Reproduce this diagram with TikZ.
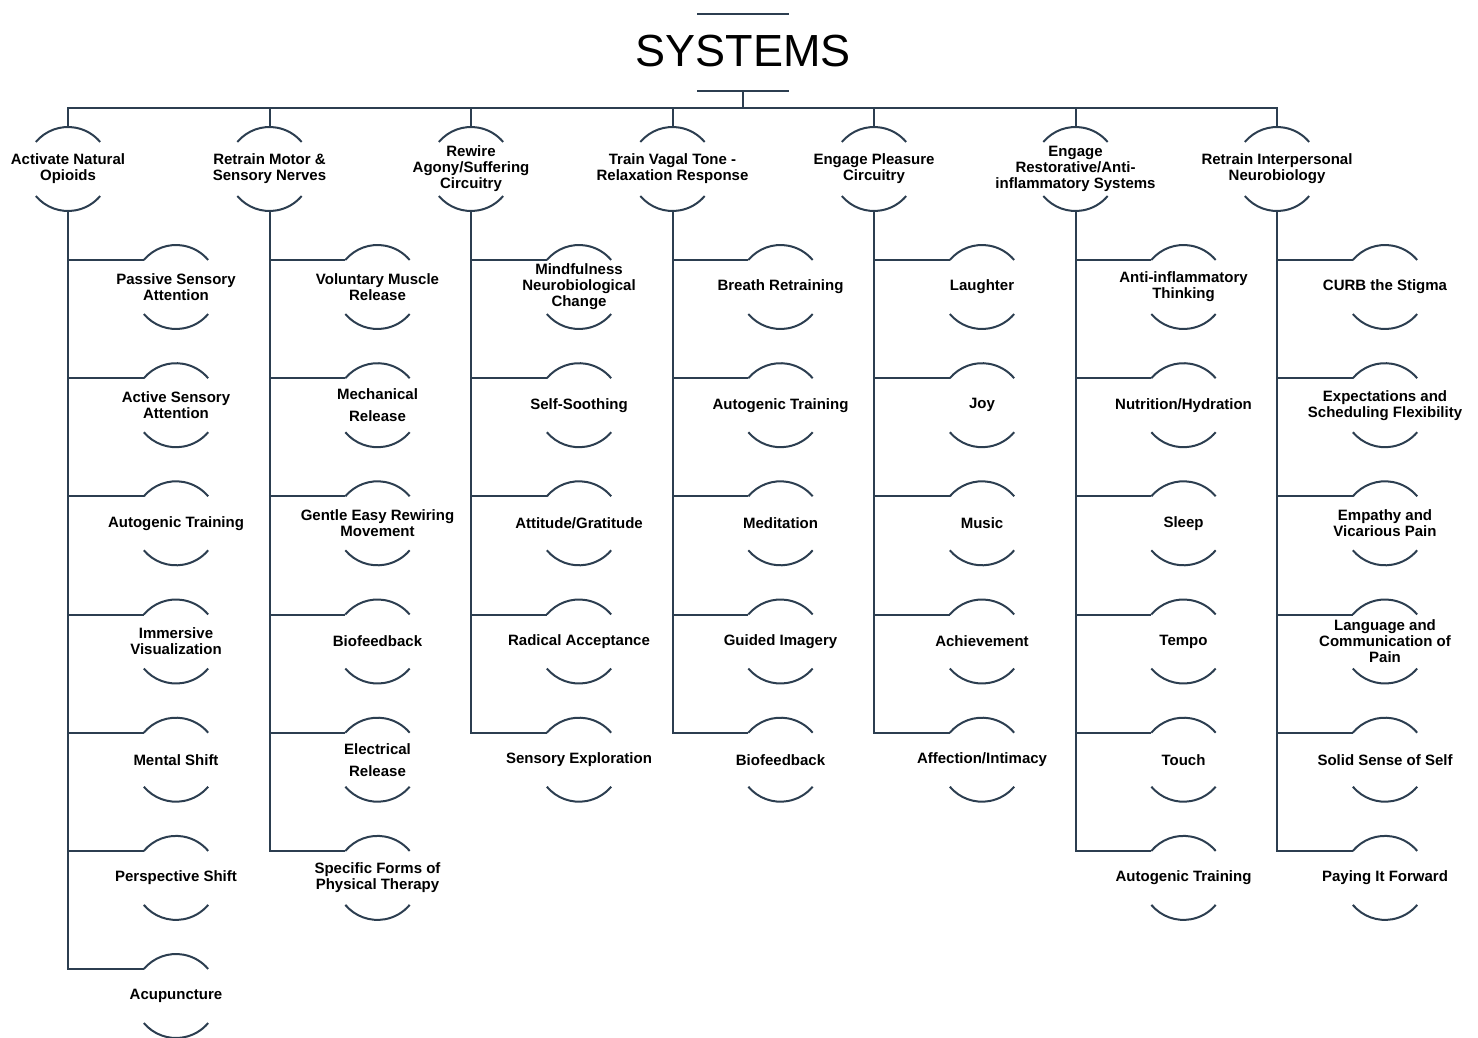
\documentclass[tikz,border=0pt]{standalone}
\usepackage{fontspec}
\setmainfont{Liberation Sans}
\usetikzlibrary{calc}
\definecolor{navy}{RGB}{44,62,80}

\begin{document}
\begin{tikzpicture}[x=1pt,y=1pt,
	ln/.style={line width=2pt,navy,line cap=butt},
	lbl/.style={font=\fontsize{15}{16}\selectfont\bfseries,align=center,inner sep=0pt},
	ttl/.style={font=\fontsize{45}{50}\selectfont,inner sep=0pt}]
\useasboundingbox (0,0) rectangle (1478,-1038);
		% title and bus
		\node[ttl] (sys) at (743,-51) {SYSTEMS};
		\coordinate (tl) at (697,-14);
		\coordinate (tr) at (789,-14);
		\coordinate (bl) at (697,-91);
		\coordinate (br) at (789,-91);
		\coordinate (stem) at (743,-91);
		\coordinate (bus) at (743,-108);
		\draw[ln] (tl) -- (tr);
		\draw[ln] (bl) -- (br);
		\draw[ln] (stem) -- (bus);
\begin{scope}[xshift=68pt]
		\node[lbl] (h1) at (0,-169) {Activate Natural\\Opioids};
		\coordinate (h1b) at (0,-211);
		\node[lbl] (c11) at (108,-287) {Passive Sensory\\Attention};
		\node[lbl] (c12) at (108,-405.2) {Active Sensory\\Attention};
		\node[lbl] (c13) at (108,-523.3) {Autogenic Training};
		\node[lbl] (c14) at (108,-641.5) {Immersive\\Visualization};
		\node[lbl] (c15) at (108,-759.7) {Mental Shift};
		\node[lbl] (c16) at (108,-877.9) {Perspective Shift};
		\node[lbl] (c17) at (108,-996) {Acupuncture};
		\draw[ln] ($(h1.center)+(0,42)$) |- (bus);
		\foreach \n in {c11,c12,c13,c14,c15,c16,c17}
			\draw[ln] ($(\n.center)+(140:42)$) -| (h1b);
\end{scope}
\begin{scope}[xshift=269.5pt]
		\node[lbl] (h2) at (0,-169) {Retrain Motor \&\\Sensory Nerves};
		\coordinate (h2b) at (0,-211);
		\node[lbl] (c21) at (108,-287) {Voluntary Muscle\\Release};
		\node[lbl] (c22) at (108,-405.2) {Mechanical\\[6pt]Release};
		\node[lbl] (c23) at (108,-523.3) {Gentle Easy Rewiring\\Movement};
		\node[lbl] (c24) at (108,-641.5) {Biofeedback};
		\node[lbl] (c25) at (108,-759.7) {Electrical\\[6pt]Release};
		\node[lbl] (c26) at (108,-877.9) {Specific Forms of\\Physical Therapy};
		\draw[ln] ($(h2.center)+(0,42)$) |- (bus);
		\foreach \n in {c21,c22,c23,c24,c25,c26}
			\draw[ln] ($(\n.center)+(140:42)$) -| (h2b);
\end{scope}
\begin{scope}[xshift=471pt]
		\node[lbl] (h3) at (0,-169) {Rewire\\Agony/Suffering\\Circuitry};
		\coordinate (h3b) at (0,-211);
		\node[lbl] (c31) at (108,-287) {Mindfulness\\Neurobiological\\Change};
		\node[lbl] (c32) at (108,-405.2) {Self-Soothing};
		\node[lbl] (c33) at (108,-523.3) {Attitude/Gratitude};
		\node[lbl] (c34) at (108,-641.5) {Radical Acceptance};
		\node[lbl] (c35) at (108,-759.7) {Sensory Exploration};
		\draw[ln] ($(h3.center)+(0,42)$) |- (bus);
		\foreach \n in {c31,c32,c33,c34,c35}
			\draw[ln] ($(\n.center)+(140:42)$) -| (h3b);
\end{scope}
\begin{scope}[xshift=672.5pt]
		\node[lbl] (h4) at (0,-169) {Train Vagal Tone -\\Relaxation Response};
		\coordinate (h4b) at (0,-211);
		\node[lbl] (c41) at (108,-287) {Breath Retraining};
		\node[lbl] (c42) at (108,-405.2) {Autogenic Training};
		\node[lbl] (c43) at (108,-523.3) {Meditation};
		\node[lbl] (c44) at (108,-641.5) {Guided Imagery};
		\node[lbl] (c45) at (108,-759.7) {Biofeedback};
		\draw[ln] ($(h4.center)+(0,42)$) |- (bus);
		\foreach \n in {c41,c42,c43,c44,c45}
			\draw[ln] ($(\n.center)+(140:42)$) -| (h4b);
\end{scope}
\begin{scope}[xshift=874pt]
		\node[lbl] (h5) at (0,-169) {Engage Pleasure\\Circuitry};
		\coordinate (h5b) at (0,-211);
		\node[lbl] (c51) at (108,-287) {Laughter};
		\node[lbl] (c52) at (108,-405.2) {Joy};
		\node[lbl] (c53) at (108,-523.3) {Music};
		\node[lbl] (c54) at (108,-641.5) {Achievement};
		\node[lbl] (c55) at (108,-759.7) {Affection/Intimacy};
		\draw[ln] ($(h5.center)+(0,42)$) |- (bus);
		\foreach \n in {c51,c52,c53,c54,c55}
			\draw[ln] ($(\n.center)+(140:42)$) -| (h5b);
\end{scope}
\begin{scope}[xshift=1075.5pt]
		\node[lbl] (h6) at (0,-169) {Engage\\Restorative/Anti-\\inflammatory Systems};
		\coordinate (h6b) at (0,-211);
		\node[lbl] (c61) at (108,-287) {Anti-inflammatory\\Thinking};
		\node[lbl] (c62) at (108,-405.2) {Nutrition/Hydration};
		\node[lbl] (c63) at (108,-523.3) {Sleep};
		\node[lbl] (c64) at (108,-641.5) {Tempo};
		\node[lbl] (c65) at (108,-759.7) {Touch};
		\node[lbl] (c66) at (108,-877.9) {Autogenic Training};
		\draw[ln] ($(h6.center)+(0,42)$) |- (bus);
		\foreach \n in {c61,c62,c63,c64,c65,c66}
			\draw[ln] ($(\n.center)+(140:42)$) -| (h6b);
\end{scope}
\begin{scope}[xshift=1277pt]
		\node[lbl] (h7) at (0,-169) {Retrain Interpersonal\\Neurobiology};
		\coordinate (h7b) at (0,-211);
		\node[lbl] (c71) at (108,-287) {CURB the Stigma};
		\node[lbl] (c72) at (108,-405.2) {Expectations and\\Scheduling Flexibility};
		\node[lbl] (c73) at (108,-523.3) {Empathy and\\Vicarious Pain};
		\node[lbl] (c74) at (108,-641.5) {Language and\\Communication of\\Pain};
		\node[lbl] (c75) at (108,-759.7) {Solid Sense of Self};
		\node[lbl] (c76) at (108,-877.9) {Paying It Forward};
		\draw[ln] ($(h7.center)+(0,42)$) |- (bus);
		\foreach \n in {c71,c72,c73,c74,c75,c76}
			\draw[ln] ($(\n.center)+(140:42)$) -| (h7b);
\end{scope}
		% arcs round every label
		\foreach \n in {h1,h2,h3,h4,h5,h6,h7,
			c11,c12,c13,c14,c15,c16,c17,c21,c22,c23,c24,c25,c26,
			c31,c32,c33,c34,c35,c41,c42,c43,c44,c45,c51,c52,c53,c54,c55,
			c61,c62,c63,c64,c65,c66,c71,c72,c73,c74,c75,c76}
			\draw[ln] (\n.center) ++(140:42) arc[start angle=140,end angle=40,radius=42]
				(\n.center) ++(220:42) arc[start angle=220,end angle=320,radius=42];
\end{tikzpicture}
\end{document}
